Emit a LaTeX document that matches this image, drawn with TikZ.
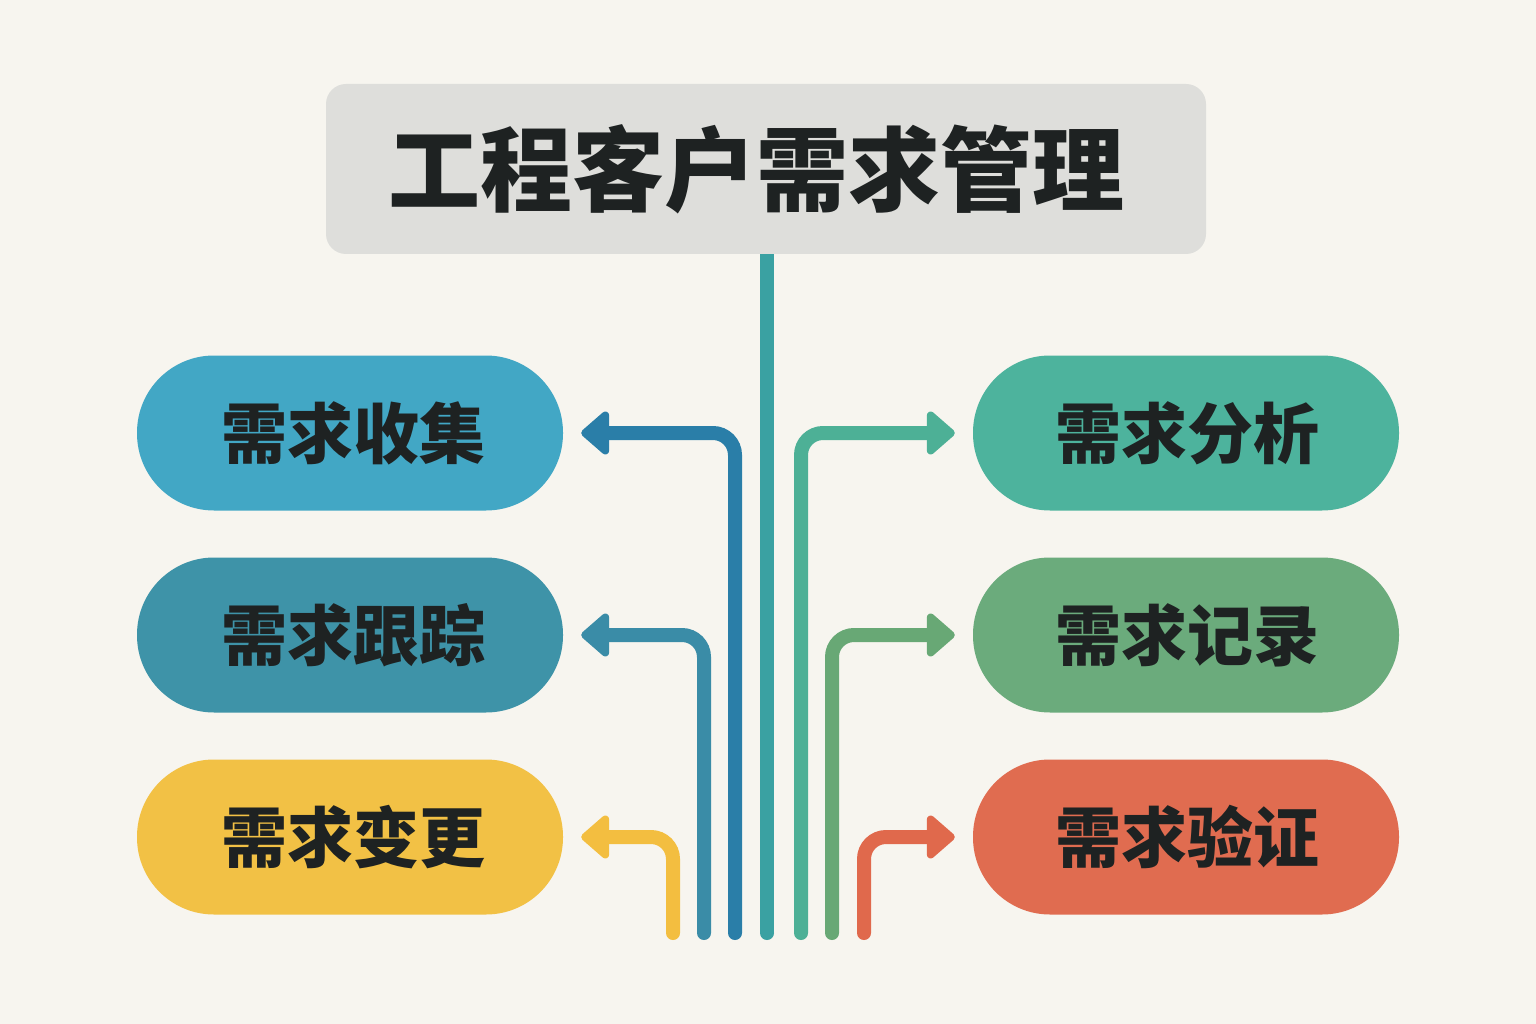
\documentclass[tikz,border=0pt]{standalone}
\usepackage{fontspec}
\newfontfamily\cjk{Noto Sans CJK SC}
\usetikzlibrary{arrows.meta,positioning}
\definecolor{bgc}{HTML}{F7F5EF}
\definecolor{titlec}{HTML}{DEDEDB}
\definecolor{txt}{HTML}{1E2222}
\definecolor{nCollect}{HTML}{42A7C5}
\definecolor{nTrack}{HTML}{3E93A8}
\definecolor{nChange}{HTML}{F2C145}
\definecolor{nAnalyse}{HTML}{4DB39D}
\definecolor{nRecord}{HTML}{6BAB7C}
\definecolor{nVerify}{HTML}{E06C50}
\definecolor{lCollect}{HTML}{2A7EA8}
\definecolor{lTrack}{HTML}{3A8CA7}
\definecolor{lChange}{HTML}{F3BE40}
\definecolor{lCenter}{HTML}{3AA1A2}
\definecolor{lAnalyse}{HTML}{4DB096}
\definecolor{lRecord}{HTML}{68A875}
\definecolor{lVerify}{HTML}{E0694C}
\tikzset{
  pill/.style={rectangle, draw=none, minimum width=426pt, minimum height=155pt,
    rounded corners=77pt, text=txt, font=\cjk\bfseries\fontsize{66}{70}\selectfont, inner sep=0pt},
  conn/.style={line width=14pt, rounded corners=22pt, line cap=round,
    -{Triangle[length=30pt,width=50pt,round]}},
  plain/.style={line width=14pt}
}
\begin{document}
\begin{tikzpicture}[x=1pt,y=-1pt]
\fill[bgc] (0,0) rectangle (1536,1024);
\useasboundingbox (0,0) rectangle (1536,1024);

\node[fill=titlec, rounded corners=20pt, minimum width=880pt, minimum height=170pt,
  inner sep=0pt, text=txt, font=\cjk\bfseries\fontsize{92}{96}\selectfont]
  (title) at (766,169) {\raisebox{-3pt}{工程客户需求管理}\hspace*{20pt}};

\node[pill, fill=nCollect] (collect) at (350,433) {\hspace*{6pt}需求收集};
\node[pill, fill=nTrack]   (track)   at (350,635) {\hspace*{6pt}需求跟踪};
\node[pill, fill=nChange]  (change)  at (350,837) {\hspace*{6pt}需求变更};
\node[pill, fill=nAnalyse] (analyse) at (1186,433) {\hspace*{3pt}需求分析};
\node[pill, fill=nRecord]  (record)  at (1186,635) {\hspace*{3pt}需求记录};
\node[pill, fill=nVerify]  (verify)  at (1186,837) {\hspace*{3pt}需求验证};

\coordinate (bChange)  at (673,933);
\coordinate (bTrack)   at (704,933);
\coordinate (bCollect) at (735,933);
\coordinate (bCenter)  at (767,933);
\coordinate (bAnalyse) at (801,933);
\coordinate (bRecord)  at (832,933);
\coordinate (bVerify)  at (864,933);

\draw[plain, lCenter, line cap=butt] (title.south -| bCenter) -- (bCenter);
\fill[lCenter] (bCenter) circle (7pt);

\draw[conn, lCollect] (bCollect) |- ([xshift=18pt]collect.east);
\draw[conn, lTrack]   (bTrack)   |- ([xshift=18pt]track.east);
\draw[conn, lChange]  (bChange)  |- ([xshift=18pt]change.east);
\draw[conn, lAnalyse] (bAnalyse) |- ([xshift=-18pt]analyse.west);
\draw[conn, lRecord]  (bRecord)  |- ([xshift=-18pt]record.west);
\draw[conn, lVerify]  (bVerify)  |- ([xshift=-18pt]verify.west);
\end{tikzpicture}
\end{document}
